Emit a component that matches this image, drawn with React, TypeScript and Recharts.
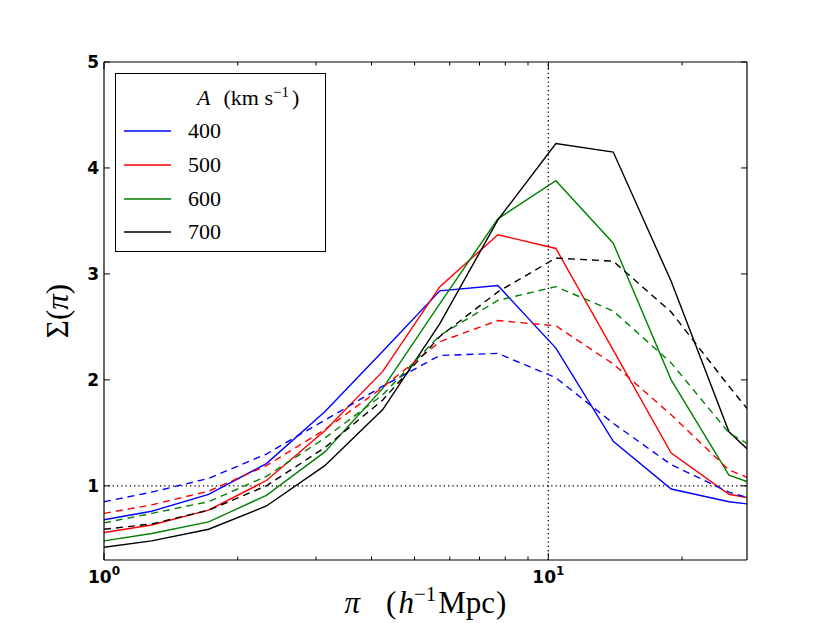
import React from "react";
import { LineChart, Line, XAxis, YAxis, ReferenceLine, Legend } from "recharts";

// projected separation (h^-1 Mpc), first and last points sit on the axis edges
const separation = [1, 1.28, 1.72, 2.32, 3.14, 4.24, 5.7, 7.7, 10.4, 14.0, 18.9, 25.5, 28];

const solid400 = [0.68, 0.76, 0.92, 1.21, 1.7, 2.27, 2.84, 2.89, 2.3, 1.42, 0.97, 0.85, 0.83];
const dashed400 = [0.85, 0.94, 1.07, 1.3, 1.62, 1.94, 2.23, 2.25, 2.02, 1.59, 1.2, 0.94, 0.89];
const solid500 = [0.56, 0.63, 0.77, 1.05, 1.52, 2.08, 2.88, 3.37, 3.24, 2.28, 1.31, 0.92, 0.89];
const dashed500 = [0.74, 0.82, 0.95, 1.19, 1.53, 1.93, 2.36, 2.56, 2.51, 2.15, 1.67, 1.15, 1.08];
const solid600 = [0.48, 0.55, 0.66, 0.91, 1.32, 1.92, 2.72, 3.52, 3.88, 3.29, 2.0, 1.1, 1.04];
const dashed600 = [0.65, 0.74, 0.85, 1.09, 1.45, 1.86, 2.42, 2.75, 2.88, 2.65, 2.16, 1.5, 1.4];
const solid700 = [0.42, 0.48, 0.59, 0.81, 1.19, 1.72, 2.53, 3.51, 4.23, 4.15, 2.93, 1.51, 1.35];
const dashed700 = [0.59, 0.64, 0.77, 1.0, 1.36, 1.81, 2.41, 2.83, 3.15, 3.12, 2.64, 1.94, 1.73];

const xTicks = [1, 2, 3, 4, 5, 6, 7, 8, 9, 10, 20];
const yTicks = [1, 2, 3, 4, 5];

const series = [
  { name: "400", color: "#0000ff", solid: solid400, dashed: dashed400 },
  { name: "500", color: "#ff0000", solid: solid500, dashed: dashed500 },
  { name: "600", color: "#008000", solid: solid600, dashed: dashed600 },
  { name: "700", color: "#000000", solid: solid700, dashed: dashed700 },
];

const data = separation.map((x, i) => {
  const row: Record<string, number> = { x };
  series.forEach((s) => {
    row[`s${s.name}`] = s.solid[i];
    row[`d${s.name}`] = s.dashed[i];
  });
  return row;
});

const tickFont = { fontFamily: "DejaVu Sans", fontWeight: "bold" as const, fontSize: 17 };
const serif = "'Liberation Serif', serif";

const isMajor = (v: number) => v === 1 || v === 10;

function BottomTick({ x, y, payload }: any) {
  const v = payload.value;
  return (
    <g>
      <line x1={x} x2={x} y1={y} y2={y - (isMajor(v) ? 7 : 3.5)} stroke="#000" />
      {isMajor(v) && (
        <text x={x} y={y + 23} textAnchor="middle" {...tickFont}>
          <tspan>10</tspan>
          <tspan dy={-8} fontSize={12}>{Math.round(Math.log10(v))}</tspan>
        </text>
      )}
    </g>
  );
}

function TopTick({ x, y, payload }: any) {
  return <line x1={x} x2={x} y1={y} y2={y + (isMajor(payload.value) ? 7 : 3.5)} stroke="#000" />;
}

function LeftTick({ x, y, payload }: any) {
  return (
    <g>
      <line x1={x} x2={x + 6} y1={y} y2={y} stroke="#000" />
      <text x={x - 5} y={y} dy="0.36em" textAnchor="end" {...tickFont}>
        {payload.value}
      </text>
    </g>
  );
}

function RightTick({ x, y }: any) {
  return <line x1={x} x2={x - 6} y1={y} y2={y} stroke="#000" />;
}

function XLabel({ viewBox }: any) {
  const cx = viewBox.x + viewBox.width / 2;
  return (
    <text x={cx} y={viewBox.y + 53} textAnchor="middle" fontFamily={serif} fontSize={31}>
      <tspan fontStyle="italic">π</tspan>
      <tspan dx={26}>(</tspan>
      <tspan fontStyle="italic" dx={2}>h</tspan>
      <tspan dy={-12} fontSize={21}>−1</tspan>
      <tspan dy={12} dx={2}>Mpc</tspan>
      <tspan dx={1}>)</tspan>
    </text>
  );
}

function YLabel({ viewBox }: any) {
  const cy = viewBox.y + viewBox.height / 2;
  const x = 68;
  return (
    <text x={x} y={cy} textAnchor="middle" fontFamily={serif} fontSize={31} transform={`rotate(-90, ${x}, ${cy})`}>
      <tspan>Σ(</tspan>
      <tspan fontStyle="italic">π</tspan>
      <tspan>)</tspan>
    </text>
  );
}

function LegendBox({ payload }: any) {
  const items = (payload || []).filter((p: any) => p.type !== "none");
  return (
    <div
      style={{
        boxSizing: "border-box",
        width: 211,
        height: 179,
        border: "1px solid #000",
        background: "#fff",
        paddingTop: 7,
        fontFamily: serif,
        fontSize: 22,
        color: "#000",
        textAlign: "left",
      }}
    >
      <div style={{ height: 33.5, lineHeight: "33.5px", marginLeft: 81, whiteSpace: "nowrap" }}>
        <i>A</i>
        <span style={{ marginLeft: 13 }}>(km s</span>
        <sup style={{ fontSize: 15, verticalAlign: "8px", lineHeight: 0 }}>−1</sup>
        <span style={{ marginLeft: 3 }}>)</span>
      </div>
      {items.map((p: any) => {
        const s = series.find((q) => q.name === p.value);
        return (
          <div key={p.value} style={{ height: 33.7, display: "flex", alignItems: "center" }}>
            <svg width={56} height={4} style={{ display: "block" }}>
              <line x1={8} x2={55} y1={2} y2={2} stroke={s ? s.color : "#000"} strokeWidth={1.5} />
            </svg>
            <span style={{ marginLeft: 16, lineHeight: 1 }}>{p.value}</span>
          </div>
        );
      })}
    </div>
  );
}

export default function App() {
  return (
    <div style={{ position: "absolute", left: 0, top: 0, width: 830, height: 623, background: "#fff" }}>
      <LineChart width={830} height={623} data={data} margin={{ top: 60, right: 81, left: 60, bottom: 33 }}>
        <XAxis
          xAxisId="b"
          dataKey="x"
          type="number"
          scale="log"
          domain={[1, 28]}
          allowDataOverflow
          ticks={xTicks}
          interval={0}
          height={30}
          tickSize={0}
          tickMargin={0}
          tickLine={false}
          tick={<BottomTick />}
          axisLine={{ stroke: "#000", strokeWidth: 1.2 }}
          label={<XLabel />}
        />
        <XAxis
          xAxisId="t"
          orientation="top"
          dataKey="x"
          type="number"
          scale="log"
          domain={[1, 28]}
          allowDataOverflow
          ticks={xTicks}
          interval={0}
          height={2}
          tickSize={0}
          tickMargin={0}
          tickLine={false}
          tick={<TopTick />}
          axisLine={{ stroke: "#000", strokeWidth: 1.2 }}
        />
        <YAxis
          yAxisId="l"
          type="number"
          domain={[0.3, 5]}
          allowDataOverflow
          ticks={yTicks}
          interval={0}
          width={44}
          tickSize={0}
          tickMargin={0}
          tickLine={false}
          tick={<LeftTick />}
          axisLine={{ stroke: "#000", strokeWidth: 1.2 }}
          label={<YLabel />}
        />
        <YAxis
          yAxisId="r"
          orientation="right"
          type="number"
          domain={[0.3, 5]}
          allowDataOverflow
          ticks={yTicks}
          interval={0}
          width={2}
          tickSize={0}
          tickMargin={0}
          tickLine={false}
          tick={<RightTick />}
          axisLine={{ stroke: "#000", strokeWidth: 1.2 }}
        />
        <ReferenceLine xAxisId="b" yAxisId="l" y={1} stroke="#000" strokeWidth={1.3} strokeDasharray="1.3 3" />
        <ReferenceLine xAxisId="b" yAxisId="l" x={10} stroke="#000" strokeWidth={1.3} strokeDasharray="1.3 3" />
        {series.map((s) => (
          <Line
            key={`s${s.name}`}
            xAxisId="b"
            yAxisId="l"
            dataKey={`s${s.name}`}
            name={s.name}
            stroke={s.color}
            strokeWidth={1.4}
            dot={false}
            activeDot={false}
            isAnimationActive={false}
          />
        ))}
        {series.map((s) => (
          <Line
            key={`d${s.name}`}
            xAxisId="b"
            yAxisId="l"
            dataKey={`d${s.name}`}
            name={`${s.name} dashed`}
            legendType="none"
            stroke={s.color}
            strokeWidth={1.4}
            strokeDasharray="7 5"
            dot={false}
            activeDot={false}
            isAnimationActive={false}
          />
        ))}
        <Legend
          layout="horizontal"
          verticalAlign="middle"
          align="center"
          content={<LegendBox />}
          wrapperStyle={{ position: "absolute", left: 115, top: 73, width: 211, height: 179 }}
        />
      </LineChart>
    </div>
  );
}
